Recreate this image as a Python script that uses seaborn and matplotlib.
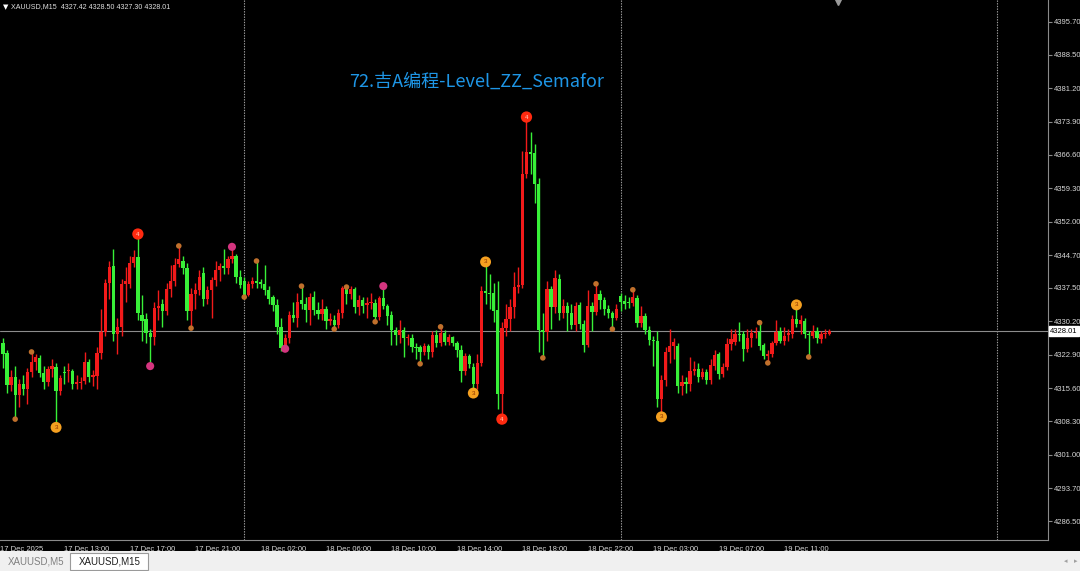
import matplotlib
matplotlib.use("Agg")
import matplotlib.pyplot as plt
import matplotlib.transforms as mtransforms
from matplotlib.patches import Rectangle
import seaborn as sns
import pandas as pd

# XAUUSD M15, 17 Dec 09:00 -> 19 Dec 13:45 (bar index = position on the chart)
opens = [
    4329.5, 4325.5, 4323.2, 4316.2, 4318.0, 4314.0, 4316.4, 4315.3, 4319.2, 4321.2,
    4322.2, 4318.9, 4317.0, 4319.8, 4320.3, 4315.0, 4319.2, 4319.3, 4319.4, 4316.5,
    4316.6, 4317.2, 4321.3, 4318.0, 4318.2, 4323.3, 4327.9, 4338.6, 4342.3, 4327.4,
    4328.9, 4338.4, 4338.4, 4343.0, 4344.3, 4331.6, 4330.7, 4327.6, 4326.8, 4333.1,
    4334.0, 4332.5, 4337.3, 4339.0, 4342.8, 4343.4, 4341.9, 4332.5, 4336.2, 4337.1,
    4340.8, 4335.0, 4337.1, 4339.2, 4341.4, 4342.3, 4341.8, 4343.8, 4344.5, 4340.0,
    4339.0, 4336.0, 4338.4, 4339.0, 4338.7, 4338.4, 4337.0, 4335.5, 4333.7, 4329.0,
    4324.3, 4326.5, 4331.6, 4331.0, 4334.9, 4334.0, 4332.6, 4335.5, 4332.6, 4331.9,
    4333.0, 4330.2, 4330.4, 4329.3, 4332.0, 4337.5, 4336.1, 4337.2, 4333.3, 4334.8,
    4333.8, 4334.1, 4334.2, 4331.1, 4335.2, 4333.5, 4331.6, 4328.3, 4327.1, 4328.4,
    4326.5, 4326.5, 4324.6, 4324.6, 4323.5, 4324.7, 4323.5, 4327.2, 4325.4, 4327.6,
    4325.6, 4326.7, 4325.5, 4324.0, 4319.3, 4322.6, 4320.2, 4316.5, 4321.1, 4336.8,
    4336.5, 4336.4, 4332.7, 4314.3, 4328.7, 4330.7, 4333.3, 4337.7, 4338.2, 4362.4,
    4367.3, 4367.0, 4360.2, 4328.3, 4327.8, 4337.3, 4333.3, 4339.5, 4332.0, 4333.6,
    4332.0, 4329.4, 4333.8, 4329.6, 4325.0, 4333.6, 4332.2, 4336.2, 4334.9, 4332.8,
    4332.0, 4330.9, 4335.7, 4334.7, 4334.5, 4334.1, 4335.3, 4329.8, 4331.3, 4328.4,
    4326.2, 4325.9, 4313.2, 4317.4, 4323.5, 4324.9, 4324.8, 4316.0, 4317.0, 4316.5,
    4319.3, 4319.8, 4318.0, 4319.2, 4317.4, 4320.5, 4323.0, 4318.7, 4320.3, 4325.2,
    4325.7, 4327.4, 4327.4, 4324.1, 4326.6, 4327.6, 4327.8, 4325.0, 4322.7, 4323.0,
    4325.5, 4328.1, 4326.0, 4327.2, 4327.4, 4330.7, 4329.6, 4330.3, 4327.4, 4327.0,
    4328.0, 4326.3, 4327.4, 4327.42,
]
closes = [
    4326.5, 4323.0, 4316.2, 4318.0, 4314.0, 4316.5, 4315.3, 4319.2, 4321.2, 4322.4,
    4318.9, 4316.9, 4319.8, 4320.5, 4315.0, 4317.8, 4318.8, 4319.6, 4316.5, 4316.9,
    4317.0, 4321.3, 4318.1, 4318.4, 4323.3, 4327.9, 4338.6, 4342.1, 4327.4, 4328.9,
    4338.4, 4339.0, 4343.0, 4344.3, 4332.0, 4330.3, 4327.6, 4326.8, 4333.1, 4333.5,
    4332.5, 4337.3, 4339.0, 4342.5, 4343.8, 4341.9, 4332.5, 4336.2, 4337.0, 4339.9,
    4335.1, 4337.1, 4339.2, 4341.4, 4342.2, 4341.9, 4343.8, 4344.5, 4340.0, 4338.2,
    4336.0, 4338.4, 4339.0, 4338.5, 4338.4, 4337.0, 4335.0, 4333.7, 4328.9, 4324.3,
    4326.5, 4331.6, 4331.0, 4334.4, 4334.0, 4332.6, 4335.5, 4332.6, 4331.9, 4332.8,
    4330.2, 4330.6, 4329.3, 4332.0, 4337.5, 4336.1, 4337.2, 4333.3, 4334.8, 4333.6,
    4334.1, 4334.4, 4331.1, 4335.2, 4333.5, 4331.4, 4328.3, 4327.1, 4328.4, 4326.6,
    4326.8, 4324.6, 4324.3, 4323.5, 4324.7, 4323.5, 4327.2, 4325.4, 4327.6, 4325.6,
    4326.7, 4325.5, 4323.9, 4319.3, 4322.6, 4320.9, 4316.5, 4321.1, 4336.8, 4336.3,
    4336.2, 4332.5, 4314.3, 4328.7, 4330.7, 4333.3, 4337.7, 4338.2, 4362.4, 4367.3,
    4366.9, 4360.2, 4328.3, 4327.8, 4337.3, 4333.3, 4339.7, 4332.0, 4333.6, 4332.0,
    4329.4, 4333.6, 4329.6, 4325.0, 4333.6, 4332.2, 4336.2, 4334.9, 4332.8, 4332.0,
    4331.0, 4332.9, 4334.4, 4334.0, 4334.1, 4335.5, 4329.8, 4331.3, 4328.4, 4326.1,
    4325.8, 4313.2, 4317.4, 4323.5, 4324.9, 4325.6, 4316.0, 4317.0, 4316.5, 4319.3,
    4319.8, 4318.0, 4319.2, 4317.4, 4320.7, 4322.8, 4318.7, 4320.3, 4325.2, 4326.3,
    4327.4, 4327.2, 4324.2, 4326.6, 4327.6, 4327.9, 4324.8, 4322.6, 4323.0, 4325.5,
    4327.9, 4326.0, 4327.0, 4327.6, 4330.7, 4329.6, 4330.4, 4327.4, 4327.2, 4328.0,
    4326.6, 4327.4, 4327.6, 4328.01,
]
highs = [
    4331.0, 4326.5, 4324.0, 4319.5, 4320.5, 4317.5, 4318.5, 4320.0, 4323.5, 4323.0,
    4322.8, 4320.5, 4320.5, 4322.0, 4321.0, 4318.5, 4320.5, 4321.0, 4319.8, 4318.5,
    4318.0, 4323.5, 4322.0, 4319.5, 4324.5, 4333.0, 4339.5, 4343.5, 4346.0, 4331.0,
    4339.5, 4342.0, 4344.5, 4345.7, 4349.3, 4336.0, 4332.0, 4328.5, 4334.5, 4337.0,
    4335.0, 4338.5, 4342.5, 4344.0, 4346.7, 4344.5, 4343.0, 4337.5, 4338.5, 4341.5,
    4342.0, 4338.0, 4340.0, 4343.5, 4343.0, 4346.0, 4344.5, 4346.5, 4345.0, 4341.5,
    4340.0, 4339.0, 4340.0, 4343.4, 4339.5, 4342.5, 4338.0, 4336.0, 4335.0, 4331.0,
    4327.5, 4332.5, 4334.5, 4336.5, 4337.9, 4335.5, 4336.5, 4336.8, 4334.5, 4335.0,
    4333.5, 4332.0, 4331.5, 4333.0, 4338.0, 4337.7, 4338.0, 4337.8, 4336.0, 4335.5,
    4335.5, 4336.5, 4335.0, 4335.8, 4337.9, 4334.0, 4332.5, 4329.0, 4330.5, 4329.0,
    4327.5, 4327.5, 4325.5, 4325.0, 4325.5, 4325.2, 4328.0, 4328.2, 4329.0, 4328.2,
    4327.5, 4327.0, 4326.0, 4325.0, 4323.3, 4323.0, 4321.0, 4323.0, 4338.0, 4343.2,
    4340.5, 4338.5, 4339.0, 4330.0, 4334.0, 4335.0, 4341.0, 4342.0, 4367.5, 4374.9,
    4371.6, 4369.0, 4361.5, 4332.0, 4339.0, 4338.0, 4341.5, 4340.5, 4335.0, 4334.5,
    4334.0, 4334.5, 4334.5, 4330.5, 4337.0, 4334.5, 4338.4, 4337.0, 4335.5, 4333.8,
    4332.5, 4334.0, 4336.5, 4336.0, 4335.5, 4337.1, 4336.0, 4333.5, 4332.0, 4329.2,
    4327.0, 4328.0, 4318.5, 4324.5, 4328.5, 4326.5, 4325.5, 4318.5, 4318.0, 4322.5,
    4321.5, 4321.0, 4320.0, 4319.8, 4322.0, 4324.0, 4323.5, 4321.0, 4326.5, 4328.5,
    4328.5, 4330.0, 4328.0, 4328.5, 4328.5, 4329.0, 4329.9, 4325.5, 4324.0, 4326.0,
    4330.5, 4329.0, 4329.0, 4328.5, 4331.5, 4333.8, 4331.5, 4331.0, 4328.0, 4329.5,
    4329.0, 4328.0, 4328.5, 4328.50,
]
lows = [
    4325.5, 4320.0, 4314.5, 4315.0, 4308.8, 4311.5, 4314.0, 4312.0, 4318.0, 4319.5,
    4318.0, 4315.5, 4316.0, 4318.0, 4307.0, 4314.0, 4316.5, 4317.0, 4315.5, 4315.5,
    4315.5, 4316.5, 4317.0, 4316.0, 4315.5, 4322.0, 4327.0, 4335.0, 4326.0, 4323.0,
    4327.0, 4334.5, 4337.5, 4342.0, 4330.5, 4326.0, 4325.5, 4320.4, 4325.0, 4330.5,
    4329.0, 4331.5, 4335.5, 4338.0, 4342.0, 4340.5, 4330.5, 4328.7, 4333.0, 4336.0,
    4333.5, 4334.0, 4331.0, 4338.0, 4339.0, 4340.5, 4340.5, 4343.0, 4338.5, 4337.5,
    4335.5, 4335.8, 4337.5, 4337.5, 4337.5, 4336.0, 4334.0, 4332.5, 4327.5, 4323.8,
    4324.2, 4325.5, 4330.0, 4329.0, 4333.0, 4330.0, 4329.5, 4331.5, 4330.8, 4330.5,
    4328.5, 4329.3, 4328.5, 4328.8, 4331.0, 4334.0, 4335.0, 4332.0, 4331.5, 4332.0,
    4331.0, 4333.0, 4330.1, 4330.5, 4332.8, 4329.5, 4325.0, 4325.0, 4325.5, 4322.5,
    4325.0, 4323.5, 4322.0, 4320.9, 4322.8, 4322.0, 4322.5, 4324.5, 4324.8, 4325.0,
    4325.0, 4324.8, 4322.5, 4317.0, 4318.5, 4320.0, 4314.5, 4315.5, 4320.5, 4334.0,
    4333.0, 4330.0, 4311.0, 4308.8, 4327.0, 4328.0, 4331.0, 4336.5, 4337.5, 4361.5,
    4362.5, 4356.0, 4323.5, 4322.2, 4326.0, 4328.5, 4332.0, 4330.5, 4331.0, 4328.0,
    4328.5, 4328.0, 4328.5, 4323.5, 4324.5, 4328.0, 4331.5, 4333.0, 4331.5, 4331.0,
    4328.5, 4330.5, 4332.5, 4333.0, 4333.2, 4333.5, 4329.0, 4329.0, 4327.5, 4325.0,
    4320.5, 4311.5, 4309.3, 4316.0, 4321.0, 4322.0, 4314.5, 4314.0, 4314.5, 4315.0,
    4318.5, 4317.0, 4317.5, 4316.5, 4316.5, 4319.5, 4317.5, 4318.0, 4319.5, 4324.0,
    4325.0, 4326.0, 4321.5, 4323.5, 4324.5, 4326.5, 4324.0, 4322.0, 4321.1, 4322.5,
    4325.0, 4325.5, 4325.0, 4326.0, 4326.5, 4329.0, 4327.5, 4326.5, 4322.4, 4326.5,
    4325.5, 4325.5, 4326.5, 4327.30,
]

# ZZ Semafor swing points: bar index, price, level (1 small .. 4 large)
semafor_bars = [4, 8, 14, 34, 37, 44, 47, 57, 60, 63, 70, 74, 82, 85, 92, 94, 103, 108,
                116, 119, 123, 129, 133, 146, 150, 155, 162, 186, 188, 195, 198]
semafor_prices = [4308.8, 4323.5, 4307.0, 4349.3, 4320.4, 4346.7, 4328.7, 4346.5, 4335.5,
                  4343.4, 4324.2, 4337.9, 4328.5, 4337.7, 4330.1, 4337.9, 4320.9, 4329.0,
                  4314.5, 4343.2, 4308.8, 4374.9, 4322.2, 4338.4, 4328.5, 4337.1, 4309.3,
                  4329.9, 4321.1, 4333.8, 4322.4]
semafor_levels = [1, 1, 3, 4, 2, 1, 1, 2, 1, 1, 2, 1, 1, 1, 1, 2, 1, 1,
                  3, 3, 4, 4, 1, 1, 1, 1, 3, 1, 1, 3, 1]

price_ticks = [4395.70, 4388.50, 4381.20, 4373.90, 4366.60, 4359.30, 4352.00, 4344.70,
               4337.50, 4330.20, 4322.90, 4315.60, 4308.30, 4301.00, 4293.70, 4286.50]
time_tick_bars = [0.3, 16, 32, 48, 64, 80, 96, 112, 128, 144, 160, 176, 192]
time_tick_labels = ["17 Dec 2025", "17 Dec 13:00", "17 Dec 17:00", "17 Dec 21:00",
                    "18 Dec 02:00", "18 Dec 06:00", "18 Dec 10:00", "18 Dec 14:00",
                    "18 Dec 18:00", "18 Dec 22:00", "19 Dec 03:00", "19 Dec 07:00",
                    "19 Dec 11:00"]
day_separators = [60, 152, 244]
bid = 4328.01

df = pd.DataFrame({"open": opens, "high": highs, "low": lows, "close": closes})
df["bar"] = range(len(df))
up = df["close"] >= df["open"]

sns.set_style("dark", {"axes.facecolor": "black", "figure.facecolor": "black"})
plt.rcParams["font.family"] = ["Liberation Sans", "DejaVu Sans"]

fig = plt.figure(figsize=(10.8, 5.71), dpi=100, facecolor="black")
ax = fig.add_axes([0, 31 / 571, 1048 / 1080, 540 / 571])
ax.set_facecolor("black")

RED = "#f21a1a"
GREEN = "#38f038"
colors = [RED if u else GREEN for u in up]

# wicks then bodies
ax.vlines(df["bar"], df["low"], df["high"], colors=colors, lw=1.0, zorder=2)
body = (df["close"] - df["open"]).abs().clip(lower=0.25)
ax.bar(df["bar"], body, bottom=df[["open", "close"]].min(axis=1), width=0.8,
       color=colors, linewidth=0, zorder=3)

for b in day_separators:
    ax.axvline(b, color="#a0a0a0", lw=0.8, dashes=(1.2, 1.2), zorder=1)
ax.axhline(bid, color="#8c8c8c", lw=0.8, zorder=1)

# semafor markers
sem = pd.DataFrame({"bar": semafor_bars, "price": semafor_prices, "level": semafor_levels})
palette = {1: "#c0702c", 2: "#d4357f", 3: "#f5a020", 4: "#ff2a10"}
sizes = {1: 16, 2: 34, 3: 62, 4: 66}
sns.scatterplot(data=sem, x="bar", y="price", hue="level", size="level",
                palette=palette, sizes=sizes, legend=False, linewidth=0, ax=ax, zorder=4)
for _, r in sem[sem["level"] >= 3].iterrows():
    ax.text(r["bar"], r["price"], str(int(r["level"])), fontsize=4.5, ha="center",
            va="center", color="#8a3000" if r["level"] == 3 else "#ffd0c0", zorder=5)

ax.set_xlim(0.29, 256.5)
ax.set_ylim(4282.35, 4400.51)
ax.set_xlabel("")
ax.set_ylabel("")

for s in ["top", "left"]:
    ax.spines[s].set_visible(False)
for s in ["right", "bottom"]:
    ax.spines[s].set_visible(True)
    ax.spines[s].set_color("#8a8a8a")
    ax.spines[s].set_linewidth(0.8)

ax.yaxis.tick_right()
ax.set_yticks(price_ticks)
ax.set_yticklabels([f"{p:.2f}" for p in price_ticks])
ax.set_xticks(time_tick_bars)
ax.set_xticklabels(time_tick_labels, ha="left")
ax.tick_params(axis="both", colors="#8a8a8a", labelcolor="#d8d8d8", labelsize=5.5,
               length=3, width=0.8, direction="out", pad=1.2)
ax.tick_params(axis="x", pad=1)
ax.grid(False)

# bid price box on the price scale
trans = mtransforms.blended_transform_factory(ax.transAxes, ax.transData)
ax.text(1.002, bid, f"{bid:.2f}", transform=trans, ha="left", va="center", fontsize=5.5,
        color="black", bbox=dict(boxstyle="square,pad=0.2", fc="white", ec="white"),
        zorder=6, clip_on=False)

# shift marker at the top
ax.plot([0.7996], [1.0], marker="v", ms=7, color="#9a9a9a", transform=ax.transAxes,
        clip_on=False, zorder=6)

# header and title
fig.text(3 / 1080, 1 - 7 / 571, "▼", fontsize=5, color="white", va="center",
         family=["DejaVu Sans"])
fig.text(11 / 1080, 1 - 7 / 571, "XAUUSD,M15  4327.42 4328.50 4327.30 4328.01",
         fontsize=5.1, color="#e0e0e0", va="center")
fig.text(477 / 1080, 1 - 82 / 571, "72.吉A编程-Level_ZZ_Semafor", fontsize=13,
         color="#1e96e6", ha="center", va="center",
         family=["Noto Sans CJK SC", "DejaVu Sans"])

# tab bar at the bottom
fig.patches.append(Rectangle((0, 0), 1, 20 / 571, transform=fig.transFigure,
                             facecolor="#f0f0f0", edgecolor="none", zorder=0))
fig.patches.append(Rectangle((70 / 1080, 1.5 / 571), 78 / 1080, 17 / 571,
                             transform=fig.transFigure, facecolor="white",
                             edgecolor="#9a9a9a", lw=0.8, zorder=1))
fig.text(8 / 1080, 10 / 571, "XAUUSD,M5", fontsize=7, color="#808080", va="center")
fig.text(79 / 1080, 10 / 571, "XAUUSD,M15", fontsize=7, color="#202020", va="center")
fig.text(1064 / 1080, 10 / 571, "◂", fontsize=5, color="#a0a0a0", va="center",
         family=["DejaVu Sans"])
fig.text(1074 / 1080, 10 / 571, "▸", fontsize=5, color="#a0a0a0", va="center",
         family=["DejaVu Sans"])

fig.savefig("out.png", dpi=100, facecolor="black")
